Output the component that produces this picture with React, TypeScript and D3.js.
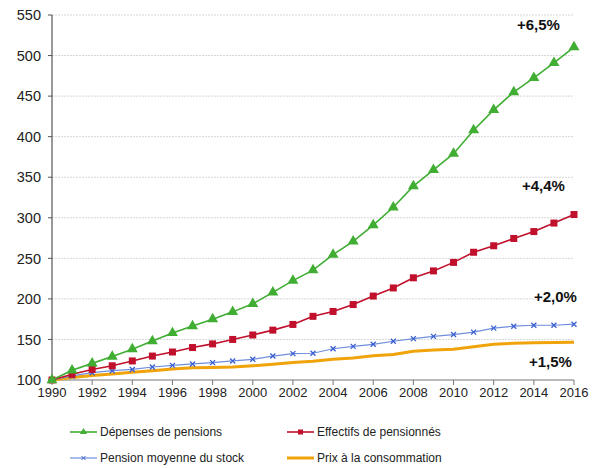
import * as d3 from "d3";

const years = d3.range(1990, 2017);

const depenses = [100, 112, 120.5, 129, 138, 148, 158, 166.5, 175, 184, 194, 208, 222.5, 235.5, 254.5, 271, 291, 313, 339, 359, 379, 408, 433, 455, 472.5, 491, 510.5];
const effectifs = [100, 107, 113, 117.5, 123.5, 129.5, 134.5, 140, 144.5, 150, 155.5, 161.5, 168.5, 178.5, 184.5, 193, 203.5, 213.5, 226, 234.5, 245, 257.5, 265.5, 274.5, 283, 293.5, 304];
const pensionMoy = [100, 105, 109, 111.5, 113, 116, 118, 119.8, 121.4, 123.5, 125.5, 129.5, 132.5, 133, 138.5, 141.5, 144, 147.8, 151, 153.8, 156, 159, 164, 166.3, 167.5, 167.5, 168.8];
const prix = [100, 103, 105.5, 107.5, 109.5, 111.5, 113.5, 115, 115.5, 116, 117.5, 119.5, 121.5, 123, 125.5, 127, 130, 131.5, 135.5, 137, 138, 141, 144, 145.3, 146, 146.2, 146.4];

const yTicks = [100, 150, 200, 250, 300, 350, 400, 450, 500, 550];
const xTicks = d3.range(1990, 2017, 2);

const seriesNames = ["Dépenses de pensions", "Effectifs de pensionnés", "Pension moyenne du stock", "Prix à la consommation"];
const growthLabels = ["+6,5%", "+4,4%", "+2,0%", "+1,5%"];
const growthAnchors = [531, 333, 196, 116];

const GREEN = "#40ad33";
const RED = "#c0102c";
const BLUE = "#6f8fdc";
const ORANGE = "#f0a30a";

const font = "'Liberation Sans', Arial, sans-serif";

export default function App() {
  const width = 601;
  const height = 468;
  const margin = { left: 52, right: 27, top: 15, bottom: 88 };

  const x = d3.scaleLinear().domain([1990, 2016]).range([margin.left, width - margin.right]);
  const y = d3.scaleLinear().domain([100, 550]).range([height - margin.bottom, margin.top]);

  const line = d3
    .line<number>()
    .x((_, i) => x(years[i]))
    .y((d) => y(d));

  const tri = d3.symbol().type(d3.symbolTriangle).size(52)() as string;

  return (
    <svg width={width} height={height} style={{ position: "absolute", left: 0, top: 0, fontFamily: font }}>
      <rect width={width} height={height} fill="#fff" />
      {/* grid */}
      {yTicks.slice(1).map((t) => (
        <line key={t} x1={x(1990)} x2={x(2016)} y1={y(t)} y2={y(t)} stroke="#d6d6d6" strokeWidth={1} strokeDasharray="2,1" />
      ))}
      {/* y axis */}
      <line x1={x(1990)} x2={x(1990)} y1={y(550)} y2={y(100)} stroke="#555" strokeWidth={1.2} />
      {yTicks.map((t) => (
        <g key={t}>
          <line x1={x(1990) - 4} x2={x(1990)} y1={y(t)} y2={y(t)} stroke="#555" />
          <text x={x(1990) - 11} y={y(t)} dy="0.36em" textAnchor="end" fontSize={14.5} fill="#222">
            {t}
          </text>
        </g>
      ))}
      {/* x axis */}
      <line x1={x(1990)} x2={x(2016)} y1={y(100)} y2={y(100)} stroke="#777" strokeWidth={1.2} />
      {xTicks.map((t) => (
        <g key={t}>
          <line x1={x(t)} x2={x(t)} y1={y(100)} y2={y(100) + 5} stroke="#777" />
          <text x={x(t)} y={y(100) + 17} textAnchor="middle" fontSize={13} fill="#222">
            {t}
          </text>
        </g>
      ))}

      {/* series */}
      <path d={line(prix) as string} fill="none" stroke={ORANGE} strokeWidth={3} />
      <path d={line(pensionMoy) as string} fill="none" stroke={BLUE} strokeWidth={1.2} />
      {pensionMoy.map((v, i) => (
        <path key={i} d={`M-2.5,-2.5L2.5,2.5M-2.5,2.5L2.5,-2.5`} transform={`translate(${x(years[i])},${y(v)})`} stroke="#3b5fd0" strokeWidth={1.3} fill="none" />
      ))}
      <path d={line(effectifs) as string} fill="none" stroke={RED} strokeWidth={1.6} />
      {effectifs.map((v, i) => (
        <rect key={i} x={x(years[i]) - 3.5} y={y(v) - 3.5} width={7} height={7} fill={RED} />
      ))}
      <path d={line(depenses) as string} fill="none" stroke={GREEN} strokeWidth={1.6} />
      {depenses.map((v, i) => (
        <path key={i} d={tri} transform={`translate(${x(years[i])},${y(v)})`} fill={GREEN} />
      ))}

      {/* growth labels */}
      {growthLabels.map((g, i) => (
        <text key={g} x={[517, 522, 534, 529][i]} y={y(growthAnchors[i])} fontSize={15} fontWeight="bold" fill="#111">
          {g}
        </text>
      ))}

      {/* legend */}
      {seriesNames.map((name, i) => {
        const lx = i % 2 === 0 ? 70 : 287;
        const ly = i < 2 ? 432 : 458;
        const color = [GREEN, RED, BLUE, ORANGE][i];
        const mx = lx + 13.5;
        return (
          <g key={name}>
            <line x1={lx} x2={lx + 27} y1={ly} y2={ly} stroke={color} strokeWidth={i === 3 ? 3 : i === 2 ? 1.2 : 1.6} />
            {i === 0 && <path d={d3.symbol().type(d3.symbolTriangle).size(22)() as string} transform={`translate(${mx},${ly})`} fill={GREEN} />}
            {i === 1 && <rect x={mx - 2.5} y={ly - 2.5} width={5} height={5} fill={RED} />}
            {i === 2 && <path d="M-2,-2L2,2M-2,2L2,-2" transform={`translate(${mx},${ly})`} stroke="#3b5fd0" strokeWidth={1} fill="none" />}
            <text x={lx + 30} y={ly} dy="0.35em" fontSize={12} fill="#222">
              {name}
            </text>
          </g>
        );
      })}
    </svg>
  );
}
